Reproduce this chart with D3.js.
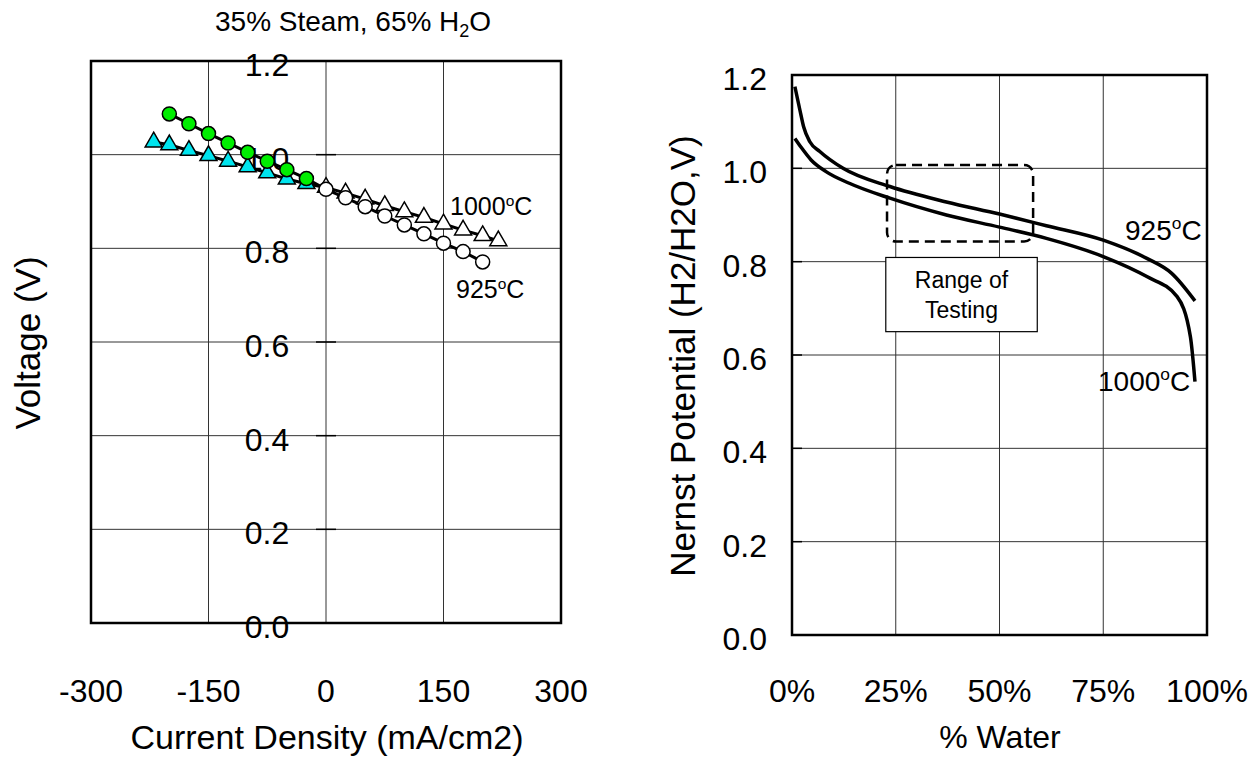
<!DOCTYPE html>
<html><head><meta charset="utf-8">
<script src="https://cdn.jsdelivr.net/npm/d3@7"></script>
<style>
body{margin:0;background:#fff;}
svg{display:block;font-family:"Liberation Sans",Arial,sans-serif;}
</style></head><body>
<svg id="c" width="1258" height="757"></svg>
<script>
// ---- Left chart data (35% steam) ----
const current925 = [-200,-175,-150,-125,-100,-75,-50,-25,0,25,50,75,100,125,150,175,200];
const volt925 = [1.087,1.066,1.045,1.025,1.005,0.986,0.968,0.949,0.926,0.908,0.889,0.869,0.850,0.831,0.811,0.793,0.771];
const current1000 = [-220,-200,-175,-150,-125,-100,-75,-50,-25,0,25,50,75,100,125,150,175,200,220];
const volt1000 = [1.027,1.021,1.009,0.998,0.986,0.974,0.961,0.948,0.938,0.930,0.918,0.905,0.891,0.878,0.866,0.852,0.839,0.827,0.816];
const leftXTicks = [-300,-150,0,150,300];
const leftYTicks = [0.0,0.2,0.4,0.6,0.8,1.0,1.2];

// ---- Right chart data (Nernst potential) ----
const water925 = [0.7,1.9,2.8,4.3,6.7,12.3,23.6,37.2,50,61.3,75,85.5,91.5,97.1];
const nernst925 = [1.175,1.125,1.089,1.057,1.036,1.0,0.961,0.928,0.902,0.877,0.846,0.807,0.775,0.716];
const water1000 = [0.7,2.2,4.6,8.2,13.8,23.6,37.2,50,61.3,75,85.5,92.8,96,97.1];
const nernst1000 = [1.064,1.045,1.018,0.993,0.968,0.936,0.900,0.874,0.850,0.811,0.768,0.725,0.639,0.543];
const rightXTicks = [0,25,50,75,100];
const rightYTicks = [0.0,0.2,0.4,0.6,0.8,1.0,1.2];
const testRange = {x0:22.9, x1:58.1, y0:0.843, y1:1.007};
const testLabelBox = {x0:22.6, x1:59.1, y0:0.650, y1:0.809};

const svg = d3.select("#c");

// ================= LEFT CHART =================
const L = {l:91, r:561, t:61, b:623};
const xL = d3.scaleLinear().domain([-300,300]).range([L.l,L.r]);
const yL = d3.scaleLinear().domain([0,1.2]).range([L.b,L.t]);
const gL = svg.append("g");

gL.selectAll("line.vg").data(leftXTicks.slice(1,-1)).join("line")
  .attr("x1",d=>xL(d)).attr("x2",d=>xL(d)).attr("y1",L.t).attr("y2",L.b)
  .attr("stroke","#333").attr("stroke-width",1);
gL.selectAll("line.hg").data(leftYTicks.slice(1,-1)).join("line")
  .attr("x1",L.l).attr("x2",L.r).attr("y1",d=>yL(d)).attr("y2",d=>yL(d))
  .attr("stroke","#333").attr("stroke-width",1);
gL.selectAll("line.yt").data(leftYTicks).join("line")
  .attr("x1",xL(0)-10).attr("x2",xL(0)+10).attr("y1",d=>yL(d)).attr("y2",d=>yL(d))
  .attr("stroke","#000").attr("stroke-width",1.5);
gL.append("rect").attr("x",L.l).attr("y",L.t).attr("width",L.r-L.l).attr("height",L.b-L.t)
  .attr("fill","none").attr("stroke","#000").attr("stroke-width",2.5);

gL.selectAll("text.yl").data(leftYTicks).join("text")
  .attr("x",267).attr("y",d=>yL(d)+15).attr("text-anchor","middle")
  .attr("font-size",32).text(d=>d.toFixed(1));
gL.selectAll("text.xl").data(leftXTicks).join("text")
  .attr("x",d=>xL(d)).attr("y",702).attr("text-anchor","middle")
  .attr("font-size",32).text(d=>d);
svg.append("text").attr("x",327).attr("y",749).attr("text-anchor","middle")
  .attr("font-size",34).text("Current Density (mA/cm2)");
svg.append("text").attr("transform","translate(40,343) rotate(-90)").attr("text-anchor","middle")
  .attr("font-size",35).text("Voltage (V)");
const tt = svg.append("text").attr("x",215).attr("y",31).attr("font-size",28);
tt.append("tspan").text("35% Steam, 65% H");
tt.append("tspan").attr("font-size",18).attr("dy",6).text("2");
tt.append("tspan").attr("dy",-6).text("O");

const s1000 = current1000.map((x,i)=>({x, y:volt1000[i]}));
const s925 = current925.map((x,i)=>({x, y:volt925[i]}));
const lineL = d3.line().x(d=>xL(d.x)).y(d=>yL(d.y));
gL.append("path").datum(s1000).attr("d",lineL).attr("fill","none").attr("stroke","#000").attr("stroke-width",3);
gL.append("path").datum(s925).attr("d",lineL).attr("fill","none").attr("stroke","#000").attr("stroke-width",3);
const tri = d3.symbol().type(d3.symbolTriangle).size(125);
gL.selectAll("path.tri").data(s1000).join("path")
  .attr("transform",d=>`translate(${xL(d.x)},${yL(d.y)})`).attr("d",tri)
  .attr("fill",d=>d.x<0?"#00e4ee":"#fff").attr("stroke","#000").attr("stroke-width",1.5);
gL.selectAll("circle.c").data(s925).join("circle")
  .attr("cx",d=>xL(d.x)).attr("cy",d=>yL(d.y)).attr("r",7)
  .attr("fill",d=>d.x<0?"#00ee00":"#fff").attr("stroke","#000").attr("stroke-width",1.5);

function tempLabel(g,x,y,num,size){
  const t = g.append("text").attr("x",x).attr("y",y).attr("font-size",size);
  t.append("tspan").text(num);
  t.append("tspan").attr("font-size",size*0.62).attr("dy",-size*0.38).text("o");
  t.append("tspan").attr("dy",size*0.38).text("C");
}
tempLabel(gL,450,215,"1000",25);
tempLabel(gL,456,298,"925",25);

// ================= RIGHT CHART =================
const R = {l:792, r:1207, t:75, b:635};
const xR = d3.scaleLinear().domain([0,100]).range([R.l,R.r]);
const yR = d3.scaleLinear().domain([0,1.2]).range([R.b,R.t]);
const gR = svg.append("g");
gR.selectAll("line.vg").data(rightXTicks.slice(1,-1)).join("line")
  .attr("x1",d=>xR(d)).attr("x2",d=>xR(d)).attr("y1",R.t).attr("y2",R.b)
  .attr("stroke","#333").attr("stroke-width",1);
gR.selectAll("line.hg").data(rightYTicks.slice(1,-1)).join("line")
  .attr("x1",R.l).attr("x2",R.r).attr("y1",d=>yR(d)).attr("y2",d=>yR(d))
  .attr("stroke","#333").attr("stroke-width",1);
gR.selectAll("line.yt").data(rightYTicks).join("line")
  .attr("x1",R.l).attr("x2",R.l+10).attr("y1",d=>yR(d)).attr("y2",d=>yR(d))
  .attr("stroke","#000").attr("stroke-width",1.5);
gR.append("rect").attr("x",R.l).attr("y",R.t).attr("width",R.r-R.l).attr("height",R.b-R.t)
  .attr("fill","none").attr("stroke","#000").attr("stroke-width",2.5);

gR.selectAll("text.yl").data(rightYTicks).join("text")
  .attr("x",767).attr("y",d=>yR(d)+15).attr("text-anchor","end")
  .attr("font-size",32).text(d=>d.toFixed(1));
gR.selectAll("text.xl").data(rightXTicks).join("text")
  .attr("x",d=>xR(d)).attr("y",702).attr("text-anchor","middle")
  .attr("font-size",32).text(d=>d+"%");
svg.append("text").attr("x",1000).attr("y",748).attr("text-anchor","middle")
  .attr("font-size",32).text("% Water");
svg.append("text").attr("transform","translate(695,356) rotate(-90)").attr("text-anchor","middle")
  .attr("font-size",35).text("Nernst Potential (H2/H2O,V)");

gR.append("rect").attr("x",xR(testRange.x0)).attr("y",yR(testRange.y1))
  .attr("width",xR(testRange.x1)-xR(testRange.x0)).attr("height",yR(testRange.y0)-yR(testRange.y1))
  .attr("rx",9).attr("fill","none").attr("stroke","#000").attr("stroke-width",2.5)
  .attr("stroke-dasharray","10,6");

const lineR = d3.line().x(d=>xR(d.x)).y(d=>yR(d.y)).curve(d3.curveMonotoneX);
const r925 = water925.map((x,i)=>({x,y:nernst925[i]}));
const r1000 = water1000.map((x,i)=>({x,y:nernst1000[i]}));
gR.append("path").datum(r925).attr("d",lineR).attr("fill","none").attr("stroke","#000").attr("stroke-width",3.5);
gR.append("path").datum(r1000).attr("d",lineR).attr("fill","none").attr("stroke","#000").attr("stroke-width",3.5);

gR.append("rect").attr("x",xR(testLabelBox.x0)).attr("y",yR(testLabelBox.y1))
  .attr("width",xR(testLabelBox.x1)-xR(testLabelBox.x0)).attr("height",yR(testLabelBox.y0)-yR(testLabelBox.y1))
  .attr("fill","#fff").attr("stroke","#000").attr("stroke-width",1.2);
const cx = (xR(testLabelBox.x0)+xR(testLabelBox.x1))/2;
gR.append("text").attr("x",cx).attr("y",288).attr("text-anchor","middle").attr("font-size",23).text("Range of");
gR.append("text").attr("x",cx).attr("y",318).attr("text-anchor","middle").attr("font-size",23).text("Testing");

tempLabel(gR,1125,240,"925",28);
tempLabel(gR,1098,391,"1000",28);
</script>
</body></html>
